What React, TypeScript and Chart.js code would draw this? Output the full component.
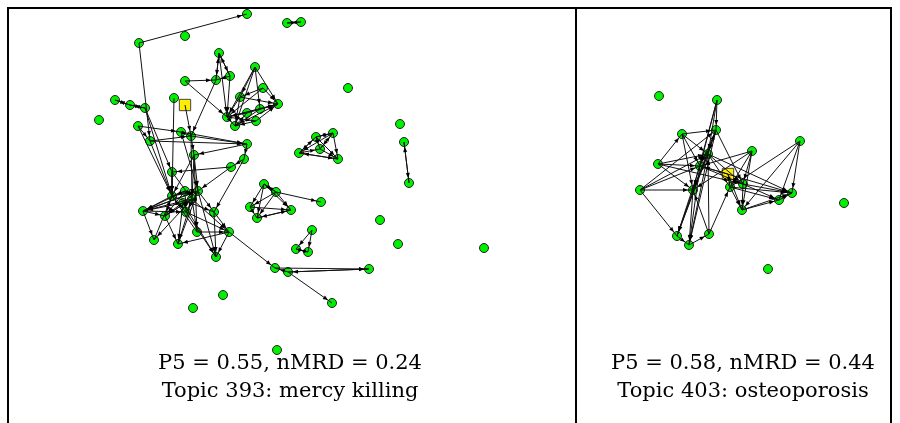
import React, { useEffect, useRef } from "react";
import { Chart, registerables } from "chart.js";

Chart.register(...registerables);

// ---- Left panel (Topic 393) node layout ----
const leftX = [247,139,185,287,301,219,255,185,216,230,348,263,174,115,130,145,99,240,278,260,227,256,235,247,138,181,191,150,247,244,194,231,172,172,198,192,143,165,186,214,197,229,154,178,216,400,316,333,299,320,338,404,409,264,276,321,250,257,291,380,312,296,308,398,484,275,288,369,332,223,193,277,185,183];
const leftY = [14,43,36,23,22,53,67,81,80,76,88,88,98,100,105,108,120,97,104,109,117,121,126,113,126,132,136,141,144,159,155,167,172,196,191,199,211,216,212,212,232,232,240,244,257,124,137,133,153,149,159,142,183,184,192,202,207,218,210,220,230,249,252,244,248,268,272,269,303,295,308,350,191,203];
const leftSquareX = [185];
const leftSquareY = [105];
const leftEdges: [number, number][] = [
  [1,0],[3,4],[4,3],[13,14],[14,13],[14,15],[15,14],[1,27],[12,33],[7,8],[7,20],[8,26],
  [5,8],[5,9],[8,5],[9,5],[5,20],[9,8],[6,17],[6,20],[6,22],[6,18],[6,19],[11,18],[11,20],[17,20],[17,22],[17,18],
  [20,21],[19,20],[20,18],[21,22],[22,18],[19,22],[23,20],[23,18],[22,23],[9,20],[21,18],[19,18],[20,22],[11,17],
  [15,32],[15,33],[24,27],[24,25],[25,26],[27,26],[27,28],[25,28],[26,30],[26,28],[28,30],[28,29],[29,39],[29,31],
  [31,32],[31,34],[30,33],[30,34],[30,35],[30,40],[32,33],[33,36],[33,34],[33,37],[33,38],[33,39],[34,36],[34,37],
  [34,38],[34,39],[35,36],[35,37],[35,40],[35,41],[35,42],[35,43],[36,42],[36,37],[37,43],[38,44],[38,41],[39,44],
  [39,41],[40,41],[41,43],[41,44],[72,36],[72,37],[72,33],[73,36],[73,43],[73,44],[72,38],[34,44],[36,38],[32,35],
  [27,33],[24,33],[26,35],[25,34],[36,34],[42,33],[43,34],[40,33],[37,35],
  [41,65],[66,68],[65,67],[66,67],[67,66],[66,65],
  [46,47],[47,46],[46,48],[48,46],[46,49],[46,50],[47,48],[47,49],[47,50],[48,49],[48,50],[49,50],[50,48],[49,47],
  [53,54],[54,53],[53,56],[53,57],[53,58],[54,56],[54,57],[54,58],[56,57],[56,58],[57,58],[58,57],[54,55],
  [60,61],[60,62],[61,62],[62,61],[51,52],[52,51],
  [100,26]
];

// ---- Right panel (Topic 403) node layout ----
const rightX = [659,717,682,716,708,752,800,658,700,640,693,730,743,792,779,742,844,677,689,709,768];
const rightY = [96,100,134,130,154,151,141,164,166,190,190,187,184,193,200,210,203,236,245,234,269];
const rightSquareX = [728];
const rightSquareY = [174];
const rightEdges: [number, number][] = [
  [1,3],[1,4],[1,8],[1,10],[3,4],[3,8],[3,10],[3,18],[2,3],[7,2],[2,8],[2,4],[2,10],[7,4],[7,8],[7,10],[7,12],
  [9,8],[9,4],[9,10],[9,17],[9,3],[8,17],[8,18],[10,17],[10,18],[19,10],[4,18],[4,17],[4,10],[4,11],[4,12],
  [5,11],[5,15],[5,10],[5,8],[5,12],[6,11],[6,13],[6,14],[6,15],[11,13],[11,14],[12,13],[12,14],[11,15],[12,15],
  [15,14],[15,13],[19,11],[18,19],[17,18],[8,12],[3,12],[4,13],[8,13],[19,4],[17,3],[14,13],
  [100,11],[100,8],[100,15]
];

// Frame and captions
const frameXs = [8, 576, 891];
const frameTop = 8;
const captionLeft = ["P5 = 0.55, nMRD = 0.24", "Topic 393: mercy killing"];
const captionRight = ["P5 = 0.58, nMRD = 0.44", "Topic 403: osteoporosis"];
const captionCenters = [290, 743];
const captionRows = [364, 392];

function getNode(xs: number[], ys: number[], sx: number[], sy: number[], i: number) {
  if (i === 100) return { x: sx[0], y: sy[0] };
  return { x: xs[i], y: ys[i] };
}

function buildEdgeData(xs: number[], ys: number[], sx: number[], sy: number[], edges: [number, number][]) {
  const out: { x: number; y: number }[] = [];
  edges.forEach(([a, b]) => {
    out.push(getNode(xs, ys, sx, sy, a));
    out.push(getNode(xs, ys, sx, sy, b));
    out.push({ x: NaN, y: NaN });
  });
  return out;
}

const arrowPlugin = {
  id: "arrows",
  afterDatasetsDraw(chart: any) {
    const ctx = chart.ctx;
    const xs = chart.scales.x;
    const ys = chart.scales.y;
    const groups = [
      { X: leftX, Y: leftY, SX: leftSquareX, SY: leftSquareY, E: leftEdges },
      { X: rightX, Y: rightY, SX: rightSquareX, SY: rightSquareY, E: rightEdges },
    ];
    ctx.save();
    ctx.fillStyle = "#000";
    groups.forEach((g) => {
      g.E.forEach(([a, b]) => {
        const p = getNode(g.X, g.Y, g.SX, g.SY, a);
        const q = getNode(g.X, g.Y, g.SX, g.SY, b);
        const x1 = xs.getPixelForValue(p.x), y1 = ys.getPixelForValue(p.y);
        const x2 = xs.getPixelForValue(q.x), y2 = ys.getPixelForValue(q.y);
        const dx = x2 - x1, dy = y2 - y1;
        const len = Math.hypot(dx, dy);
        if (len < 1) return;
        const ux = dx / len, uy = dy / len;
        const r = b === 100 ? 7 : 5;
        const tx = x2 - ux * r, ty = y2 - uy * r;
        const L = 5, W = 2;
        ctx.beginPath();
        ctx.moveTo(tx, ty);
        ctx.lineTo(tx - ux * L - uy * W, ty - uy * L + ux * W);
        ctx.lineTo(tx - ux * L + uy * W, ty - uy * L - ux * W);
        ctx.closePath();
        ctx.fill();
      });
    });
    ctx.restore();
  },
  afterDraw(chart: any) {
    const ctx = chart.ctx;
    const xs = chart.scales.x;
    const ys = chart.scales.y;
    ctx.save();
    ctx.strokeStyle = "#000";
    ctx.lineWidth = 2;
    ctx.beginPath();
    ctx.moveTo(xs.getPixelForValue(frameXs[0]) - 1, ys.getPixelForValue(frameTop));
    ctx.lineTo(xs.getPixelForValue(frameXs[2]) + 1, ys.getPixelForValue(frameTop));
    frameXs.forEach((fx) => {
      ctx.moveTo(xs.getPixelForValue(fx), ys.getPixelForValue(frameTop));
      ctx.lineTo(xs.getPixelForValue(fx), ys.getPixelForValue(423));
    });
    ctx.stroke();
    ctx.fillStyle = "#000";
    ctx.font = '21px "DejaVu Serif", "Liberation Serif", serif';
    ctx.textAlign = "center";
    ctx.textBaseline = "middle";
    [captionLeft, captionRight].forEach((lines, k) => {
      lines.forEach((t, j) => {
        ctx.fillText(t, xs.getPixelForValue(captionCenters[k]), ys.getPixelForValue(captionRows[j]));
      });
    });
    ctx.restore();
  },
};

export default function App() {
  const ref = useRef<HTMLCanvasElement | null>(null);
  useEffect(() => {
    if (!ref.current) return;
    const nodeStyle = {
      backgroundColor: "#00f000",
      borderColor: "#222",
      borderWidth: 1,
      pointRadius: 4.5,
      showLine: false,
      clip: false as any,
    };
    const chart = new Chart(ref.current, {
      type: "scatter",
      data: {
        datasets: [
          {
            data: buildEdgeData(leftX, leftY, leftSquareX, leftSquareY, leftEdges),
            showLine: true,
            spanGaps: false,
            borderColor: "#111",
            borderWidth: 1,
            pointRadius: 0,
            clip: false as any,
          } as any,
          {
            data: buildEdgeData(rightX, rightY, rightSquareX, rightSquareY, rightEdges),
            showLine: true,
            spanGaps: false,
            borderColor: "#111",
            borderWidth: 1,
            pointRadius: 0,
            clip: false as any,
          } as any,
          { ...nodeStyle, data: leftX.map((x, i) => ({ x, y: leftY[i] })) } as any,
          { ...nodeStyle, data: rightX.map((x, i) => ({ x, y: rightY[i] })) } as any,
          {
            data: leftSquareX.map((x, i) => ({ x, y: leftSquareY[i] })).concat(rightSquareX.map((x, i) => ({ x, y: rightSquareY[i] }))),
            pointStyle: "rect",
            pointRadius: 8,
            backgroundColor: "#ffee00",
            borderColor: "#444",
            borderWidth: 1,
            showLine: false,
            clip: false as any,
          } as any,
        ],
      },
      options: {
        animation: false,
        responsive: false,
        events: [],
        layout: { padding: 0, autoPadding: false },
        plugins: { legend: { display: false }, tooltip: { enabled: false }, title: { display: false } },
        scales: {
          x: { type: "linear", min: 0, max: 900, display: false },
          y: { type: "linear", min: 0, max: 423, reverse: true, display: false },
        },
      },
      plugins: [arrowPlugin],
    });
    return () => chart.destroy();
  }, []);
  return (
    <div style={{ position: "fixed", left: 0, top: 0, width: 900, height: 423, background: "#fff" }}>
      <canvas ref={ref} width={900} height={423} style={{ display: "block", width: 900, height: 423 }} />
    </div>
  );
}
